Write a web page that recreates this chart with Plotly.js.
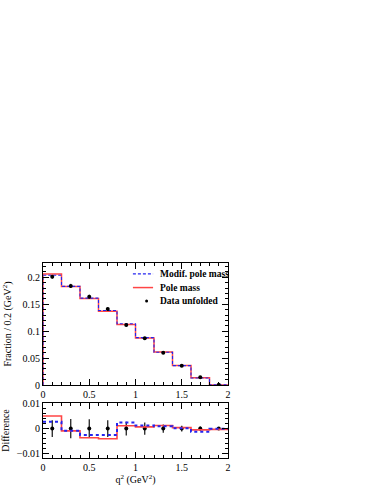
<!DOCTYPE html>
<html>
<head>
<meta charset="utf-8">
<script src="https://cdn.plot.ly/plotly-3.0.1.min.js"></script>
<style>
  body { margin: 0; background: #fff; }
  #chart { width: 379px; height: 491px; }
</style>
</head>
<body>
<div id="chart"></div>
<script>
// bin edges in q^2 (GeV^2)
const binEdges = [0, 0.2, 0.4, 0.6, 0.8, 1.0, 1.2, 1.4, 1.6, 1.8, 2.0];
const binCenters = [0.1, 0.3, 0.5, 0.7, 0.9, 1.1, 1.3, 1.5, 1.7, 1.9];

// unfolded data
const dataFrac = [0.201, 0.184, 0.164, 0.141, 0.1115, 0.0868, 0.0600, 0.0360, 0.0143, 0.0004];
const dataErr  = [0.0033, 0.0038, 0.0037, 0.0033, 0.0027, 0.0024, 0.0016, 0.0011, 0.0008, 0.0003];

// model predictions
const poleMass      = [0.2060, 0.1831, 0.1605, 0.1370, 0.1126, 0.0875, 0.0612, 0.0364, 0.0138, 0.0001];
const modifPoleMass = [0.2037, 0.1832, 0.1614, 0.1384, 0.1139, 0.0880, 0.0609, 0.0361, 0.0131, 0.0003];

// differences model - data
const diffPole  = [0.0050, -0.0009, -0.0036, -0.0040, 0.0011, 0.0007, 0.0012, 0.0004, -0.0005, -0.0003];
const diffModif = [0.0027, -0.0008, -0.0025, -0.0025, 0.0024, 0.0012, 0.0009, 0.0001, -0.0012, -0.0001];
const diffData  = [0, 0, 0, 0, 0, 0, 0, 0, 0, 0];

const legendLabels = ["Modif. pole mass", "Pole mass", "Data unfolded"];

function steps(vals, startAtZero) {
    const xs = [], ys = [];
    if (startAtZero) { xs.push(binEdges[0]); ys.push(0); }
    vals.forEach((v, i) => { xs.push(binEdges[i]); ys.push(v); });
    xs.push(binEdges[binEdges.length - 1]);
    ys.push(vals[vals.length - 1]);
    return { x: xs, y: ys };
}

const red = "#ff4545";
const blue = "#2424f0";
const font = { family: "Liberation Serif, Times New Roman, serif", size: 10, color: "#000" };

const sPole = steps(poleMass, true);
const sModif = steps(modifPoleMass, true);
const dPole = steps(diffPole, false);
const dModif = steps(diffModif, false);

const traces = [
    {
        x: sPole.x, y: sPole.y, mode: "lines", line: { shape: "hv", color: red, width: 1.5 },
        xaxis: "x", yaxis: "y"
    },
    {
        x: sModif.x, y: sModif.y, mode: "lines", line: { shape: "hv", color: blue, width: 1.1, dash: "3px,2px" },
        xaxis: "x", yaxis: "y"
    },
    {
        x: binCenters, y: dataFrac, mode: "markers", marker: { color: "#000", size: 4 },
        error_y: { type: "data", array: dataErr, color: "#000", thickness: 1, width: 0 },
        xaxis: "x", yaxis: "y"
    },
    {
        x: binCenters, y: diffData, mode: "markers", marker: { color: "#000", size: 4 },
        error_y: { type: "data", array: dataErr, color: "#111", thickness: 1.2, width: 0 },
        xaxis: "x2", yaxis: "y2"
    },
    {
        x: dPole.x, y: dPole.y, mode: "lines", line: { shape: "hv", color: red, width: 1.6 },
        xaxis: "x2", yaxis: "y2"
    },
    {
        x: dModif.x, y: dModif.y, mode: "lines", line: { shape: "hv", color: blue, width: 2, dash: "dot" },
        xaxis: "x2", yaxis: "y2"
    }
];

const axisBase = {
    showgrid: false, zeroline: false, showline: true, linecolor: "#000", linewidth: 1,
    mirror: "ticks", ticks: "inside", ticklen: 6, tickcolor: "#000", tickfont: font
};

// hand-built legend (ROOT style, compact rows)
const legRows = [0.944, 0.874, 0.805];
const legShapes = [
    { type: "line", xref: "paper", yref: "paper", x0: 0.486, x1: 0.595, y0: legRows[0], y1: legRows[0],
      line: { color: blue, width: 1.1, dash: "3px,2px" } },
    { type: "line", xref: "paper", yref: "paper", x0: 0.486, x1: 0.595, y0: legRows[1], y1: legRows[1],
      line: { color: red, width: 1.5 } },
    { type: "circle", xref: "paper", yref: "paper", x0: 0.552, x1: 0.568, y0: legRows[2] - 0.0077, y1: legRows[2] + 0.0077,
      fillcolor: "#000", line: { color: "#000", width: 0 } }
];
const legAnnotations = legendLabels.map((t, i) => ({
    text: "<b>" + t + "</b>", xref: "paper", yref: "paper", x: 0.622, y: legRows[i],
    xanchor: "left", yanchor: "middle", showarrow: false,
    font: { family: font.family, size: 9.5, color: "#000" }
}));

const layout = {
    width: 379, height: 491,
    margin: { l: 43, r: 151, t: 263, b: 33 },
    paper_bgcolor: "#fff", plot_bgcolor: "#fff",
    font: font,
    showlegend: false,
    shapes: legShapes,
    annotations: legAnnotations,
    xaxis: Object.assign({}, axisBase, {
        domain: [0, 1], anchor: "y", range: [0, 2], dtick: 0.5,
        minor: { dtick: 0.1, ticklen: 3, ticks: "inside", tickcolor: "#000" }
    }),
    yaxis: Object.assign({}, axisBase, {
        domain: [0.374, 1], anchor: "x", range: [0, 0.2265], dtick: 0.05,
        minor: { dtick: 0.01, ticklen: 3, ticks: "inside", tickcolor: "#000" },
        title: { text: "Fraction / 0.2 (GeV<sup>2</sup>)", font: font, standoff: 8 }
    }),
    xaxis2: Object.assign({}, axisBase, {
        domain: [0, 1], anchor: "y2", range: [0, 2], dtick: 0.5,
        minor: { dtick: 0.1, ticklen: 3, ticks: "inside", tickcolor: "#000" },
        title: { text: "q<sup>2</sup> (GeV<sup>2</sup>)", font: font, standoff: 2 }
    }),
    yaxis2: Object.assign({}, axisBase, {
        domain: [0, 0.282], anchor: "x2", range: [-0.0116, 0.0101], dtick: 0.01,
        minor: { dtick: 0.002, ticklen: 3, ticks: "inside", tickcolor: "#000" },
        title: { text: "Difference", font: font, standoff: 8 }
    })
};

Plotly.newPlot("chart", traces, layout, { staticPlot: true, displayModeBar: false });
</script>
</body>
</html>
